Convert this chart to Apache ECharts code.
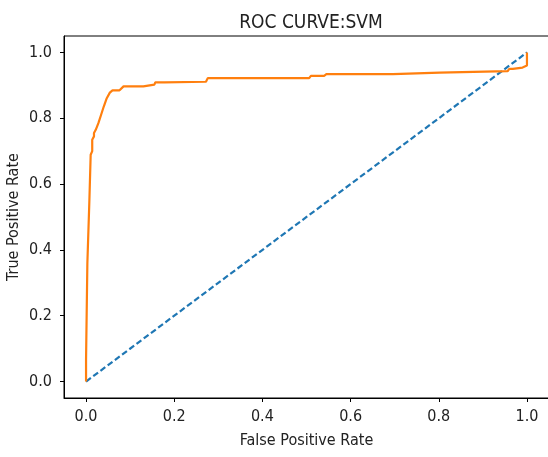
<!DOCTYPE html>
<html>
<head>
<meta charset="utf-8">
<script src="https://cdn.jsdelivr.net/npm/echarts@6/dist/echarts.min.js"></script>
<style>
  html, body { margin: 0; padding: 0; background: #fff; }
  #roc-chart { width: 548px; height: 457px; }
</style>
</head>
<body>
<div id="roc-chart"></div>
<script>
// ROC curve points
const svmFpr = [0, 0, 0.003, 0.003, 0.0075, 0.0075, 0.0105, 0.0105, 0.014, 0.014, 0.018, 0.018, 0.022, 0.028, 0.034, 0.04, 0.047, 0.054, 0.06, 0.076, 0.085, 0.13, 0.132, 0.155, 0.157, 0.178, 0.18, 0.272, 0.276, 0.506, 0.51, 0.54, 0.545, 0.696, 0.70, 0.802, 0.806, 0.956, 0.96, 0.968, 0.97, 0.99, 1.0, 1.0];
const svmTpr = [0, 0.066, 0.066, 0.36, 0.36, 0.547, 0.547, 0.689, 0.70, 0.735, 0.745, 0.755, 0.765, 0.785, 0.81, 0.835, 0.861, 0.878, 0.885, 0.885, 0.897, 0.897, 0.902, 0.902, 0.909, 0.909, 0.911, 0.911, 0.922, 0.922, 0.929, 0.929, 0.934, 0.934, 0.939, 0.939, 0.943, 0.943, 0.950, 0.950, 0.954, 0.954, 0.96, 1.0];
const chanceFpr = [0, 1];
const chanceTpr = [0, 1];
const tickValues = [0, 0.2, 0.4, 0.6, 0.8, 1.0];

const zip = (xs, ys) => xs.map((x, i) => [x, ys[i]]);
const font = '"DejaVu Sans Condensed", "DejaVu Sans", sans-serif';
const textColor = '#222';

const chart = echarts.init(document.getElementById('roc-chart'));

const axisCommon = {
  type: 'value',
  min: -0.05,
  max: 1.05,
  nameLocation: 'middle',
  nameMoveOverlap: false,
  nameTextStyle: { fontFamily: font, fontSize: 16, color: textColor },
  axisLine: { show: true, onZero: false, lineStyle: { color: '#000', width: 1 } },
  axisTick: { show: true, inside: false, length: 4, customValues: tickValues, lineStyle: { color: '#000' } },
  axisLabel: {
    customValues: tickValues,
    fontFamily: font,
    fontSize: 16,
    color: textColor,
    formatter: (v) => v.toFixed(1)
  },
  splitLine: { show: false }
};

chart.setOption({
  animation: false,
  title: {
    text: 'ROC CURVE:SVM',
    left: 306,
    textAlign: 'center',
    top: 9,
    textStyle: { fontFamily: font, fontSize: 19, fontWeight: 'normal', color: textColor }
  },
  grid: {
    left: 64,
    right: -1,
    top: 36,
    bottom: 59,
    outerBoundsMode: 'none',
    containLabel: false,
    show: true,
    borderColor: '#000',
    borderWidth: 1,
    backgroundColor: '#fff'
  },
  xAxis: Object.assign({}, axisCommon, {
    name: 'False Positive Rate',
    nameGap: 35,
    axisLabel: Object.assign({}, axisCommon.axisLabel, { margin: 11 })
  }),
  yAxis: Object.assign({}, axisCommon, {
    name: 'True Positive Rate',
    nameGap: 42,
    axisLabel: Object.assign({}, axisCommon.axisLabel, { margin: 12 })
  }),
  series: [
    {
      name: 'chance',
      type: 'line',
      data: zip(chanceFpr, chanceTpr),
      showSymbol: false,
      lineStyle: { color: '#1f77b4', width: 2.2, type: [6, 3] },
      z: 2
    },
    {
      name: 'SVM',
      type: 'line',
      data: zip(svmFpr, svmTpr),
      showSymbol: false,
      lineStyle: { color: '#ff7f0e', width: 2.2 },
      z: 3
    }
  ]
});
</script>
</body>
</html>
